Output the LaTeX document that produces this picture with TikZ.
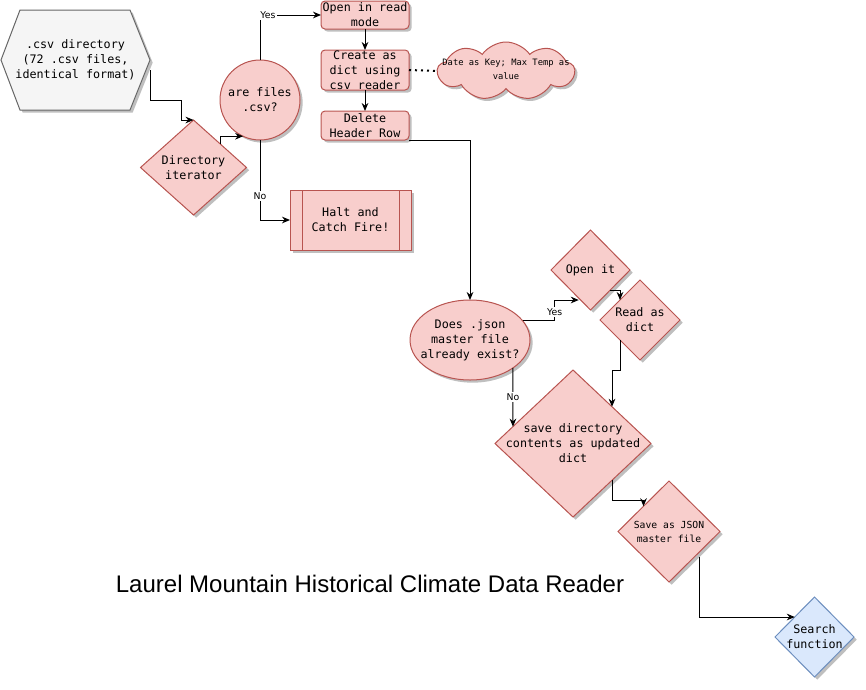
\documentclass[tikz,border=0pt]{standalone}
\usepackage{fontspec}
\setmainfont{Liberation Sans}
\setmonofont{DejaVu Sans Mono}
\newfontfamily\labfont{DejaVu Sans}
\usetikzlibrary{shapes.geometric,shapes.symbols,arrows.meta,calc,shadows}
\def\pxu{0.75pt}
\definecolor{pinkfill}{HTML}{F8CECC}
\definecolor{pinkline}{HTML}{B85450}
\definecolor{grayfill}{HTML}{F5F5F5}
\definecolor{grayline}{HTML}{666666}
\definecolor{bluefill}{HTML}{DAE8FC}
\definecolor{blueline}{HTML}{6C8EBF}
\begin{document}
\begin{tikzpicture}[x=0.75pt,y=-0.75pt,
  shad/.style={drop shadow={shadow xshift=2pt,shadow yshift=-2pt,opacity=0.25,fill=black}},
  pinkshape/.style={draw=pinkline,fill=pinkfill,line width=0.75pt,outer sep=0pt,inner sep=0pt,shad},
  blueshape/.style={draw=blueline,fill=bluefill,line width=0.75pt,outer sep=0pt,inner sep=0pt,shad},
  txt/.style={font=\ttfamily\fontsize{8.8}{11.25}\selectfont,align=center,inner sep=0pt},
  smalltxt/.style={font=\ttfamily\fontsize{6.6}{10.5}\selectfont,align=center,inner sep=0pt},
  midtxt/.style={font=\ttfamily\fontsize{7.3}{10.5}\selectfont,align=center,inner sep=0pt},
  arr/.style={-{Stealth[length=6pt,width=5pt]},line width=0.75pt},
  lab/.style={font=\labfont\fontsize{7}{8}\selectfont,fill=white,inner sep=1pt,text=black}
]
\useasboundingbox (0,0) rectangle (866,689);

% hexagon
\node[txt, minimum width=149*\pxu, minimum height=100*\pxu, outer sep=0pt] (hex) at (75.5,60) {};
\filldraw[draw=grayline, fill=grayfill, line width=0.75pt, shad]
  (hex.west) -- ([xshift=14.25pt]hex.north west) -- ([xshift=-15pt]hex.north east) -- (hex.east)
  -- ([xshift=-15pt]hex.south east) -- ([xshift=14.25pt]hex.south west) -- cycle;
\node[txt] (hex-t) at (hex) {.csv directory\\(72 .csv files,\\identical format)};

% directory iterator
\node[pinkshape, diamond, minimum width=106*\pxu, minimum height=95*\pxu] (dirit) at (193.5,167.5) {};
\node[txt] (dirit-t) at (dirit) {Directory\\iterator};

% are files .csv?
\node[pinkshape, circle, minimum size=80*\pxu] (circ) at (260,100) {};
\node[txt] (circ-t) at (circ) {are files\\.csv?};

% boxes
\node[pinkshape, rounded corners=3pt, minimum width=88*\pxu, minimum height=28*\pxu] (open) at (365,15) {};
\node[txt] (open-t) at (open) {Open in read\\mode};
\node[pinkshape, rounded corners=3pt, minimum width=88*\pxu, minimum height=40*\pxu] (create) at (365,70) {};
\node[txt] (create-t) at (create) {Create as\\dict using\\csv reader};
\node[pinkshape, rounded corners=3pt, minimum width=88*\pxu, minimum height=29*\pxu] (delete) at (365,125.5) {};
\node[txt] (delete-t) at (delete) {Delete\\Header Row};

% cloud
\node[pinkshape, cloud, cloud puffs=9, cloud puff arc=110, aspect=2.4, minimum width=137*\pxu, minimum height=58*\pxu] (cloud) at (506,71) {};
\node[smalltxt] (cloud-t) at (506,69) {Date as Key; Max Temp as\\value};

% halt
\node[pinkshape, minimum width=121*\pxu, minimum height=60*\pxu] (halt) at (350.5,220) {};
\draw[draw=pinkline, line width=0.75pt] ([xshift=9pt]halt.north west) -- ([xshift=9pt]halt.south west);
\draw[draw=pinkline, line width=0.75pt] ([xshift=-9pt]halt.north east) -- ([xshift=-9pt]halt.south east);
\node[txt] (halt-t) at (halt) {Halt and\\Catch Fire!};

% json question
\node[pinkshape, ellipse, minimum width=120*\pxu, minimum height=80*\pxu] (ell) at (470,340) {};
\node[txt] (ell-t) at (ell) {Does .json\\master file\\already exist?};

% open it, read as dict
\node[pinkshape, diamond, minimum width=79*\pxu, minimum height=80*\pxu] (openit) at (590.5,270) {};
\node[txt] (openit-t) at (openit) {Open it};
\node[pinkshape, diamond, minimum width=80*\pxu, minimum height=80*\pxu] (readdict) at (640,320) {};
\node[txt] (readdict-t) at (readdict) {Read as\\dict};

% save directory
\node[pinkshape, diamond, minimum width=156*\pxu, minimum height=147*\pxu] (savedir) at (573,443.5) {};
\node[txt] (savedir-t) at (573,443) {save directory\\contents as updated\\dict};

% save as json
\node[pinkshape, diamond, minimum width=102*\pxu, minimum height=101*\pxu] (jsonsave) at (669,531.5) {};
\node[midtxt] (jsonsave-t) at (669,532) {Save as JSON\\master file};

% search
\node[blueshape, diamond, minimum width=79*\pxu, minimum height=80*\pxu] (search) at (814.5,637) {};
\node[txt] (search-t) at (search) {Search\\function};

% title
\node[font=\fontsize{18}{22}\selectfont, inner sep=0pt] (title) at (370,584) {Laurel Mountain Historical Climate Data Reader};

% connectors
\draw[arr] ([yshift=-7.5pt]hex.east) -- ++(0,30) -| ([xshift=-9pt]dirit.north) -- (dirit.north);
\draw[arr] (dirit.north east) |- (circ.245);
\draw[arr] (circ.north) |- (open.west) node[lab, pos=0.565] (yes1) {Yes};
\draw[arr] (circ.south) |- (halt.west) node[lab, pos=0.35] (no1) {No};
\draw[arr] (open.south) -- (create.north);
\draw[arr] (create.south) -- (delete.north);
\draw[line width=1.5pt, dash pattern=on 1.5pt off 3pt] (create.east) -- (cloud.west);
\draw[arr] (delete.south east) -| (ell.north);
\draw[arr] (ell.20) -- ++(32,0) |- ([shift={(8,10)}]openit.south west) node[lab, pos=0.21] (yes2) {Yes};
\draw[arr] (openit.south east) -| (readdict.north west);
\draw[arr] (readdict.south west) -- ++(0,30) -| (savedir.north east);
\draw[arr] (ell.-33) -- ($(savedir.west)!0.23!(savedir.north)$) node[lab, pos=0.5] (no2) {No};
\draw[arr] (savedir.south east) -- ++(0,20) -| (jsonsave.north west);
\draw[arr] ([xshift=4pt]jsonsave.south east) |- (search.north west);
\end{tikzpicture}
\end{document}
